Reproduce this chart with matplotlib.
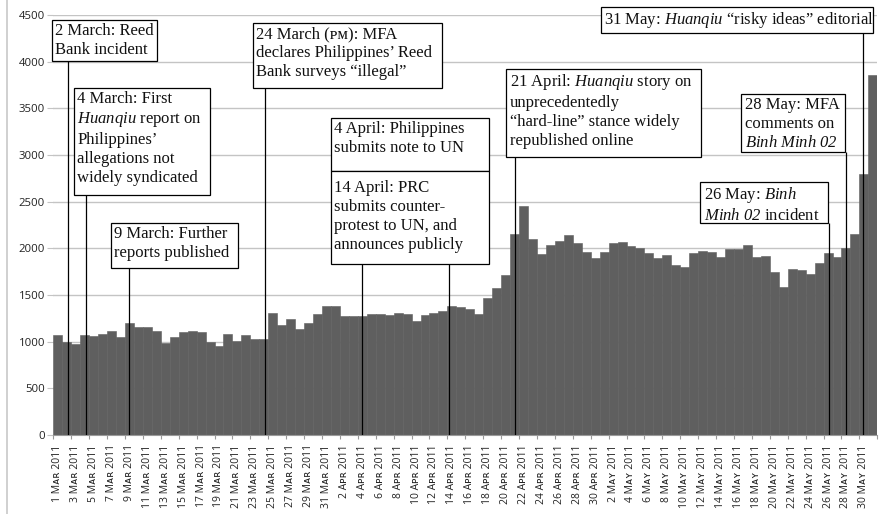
import numpy as np
import pandas as pd
import matplotlib
matplotlib.use("Agg")
import matplotlib.pyplot as plt
from matplotlib.patches import Rectangle
from matplotlib.lines import Line2D

plt.rcParams['mathtext.fontset'] = 'custom'
plt.rcParams['mathtext.rm'] = 'Liberation Serif'
plt.rcParams['mathtext.it'] = 'Liberation Serif:italic'
plt.rcParams['mathtext.sf'] = 'Liberation Serif:italic'

# ---------------- data ----------------
dates = pd.date_range("2011-03-01", "2011-05-31", freq="D")
month_sc = {3: "M\u1d00\u0280", 4: "A\u1d18\u0280", 5: "M\u1d00\u028f"}
tick_labels = [f"{d.day} {month_sc[d.month]} 2011" for d in dates[::2]]

daily_counts = [
    1075, 993, 975, 1075, 1061, 1083, 1115, 1050, 1201, 1151,
    1151, 1115, 986, 1043, 1097, 1108, 1101, 993, 957, 1083,
    1004, 1068, 1022, 1032, 1302, 1176, 1241, 1129, 1201, 1291,
    1385, 1378, 1270, 1277, 1277, 1291, 1291, 1284, 1309, 1291,
    1223, 1284, 1306, 1324, 1378, 1365, 1350, 1291, 1463, 1575,
    1714, 2150, 2457, 2100, 1935, 2035, 2078, 2143, 2060, 1960,
    1892, 1964, 2054, 2071, 2020, 2000, 1953, 1893, 1928, 1821,
    1803, 1950, 1971, 1955, 1910, 1995, 1995, 2036, 1903, 1913,
    1745, 1588, 1780, 1770, 1724, 1842, 1950, 1903, 2000, 2155,
    2795, 3860,
]

event_texts = [
    "2 March: Reed\nBank incident",
    "4 March: First\n$\\mathsf{Huanqiu}$ report on\nPhilippines\u2019\nallegations not\nwidely syndicated",
    "9 March: Further\nreports published",
    "24 March (\u1d18\u1d0d): MFA\ndeclares Philippines\u2019 Reed\nBank surveys \u201cillegal\u201d",
    "4 April: Philippines\nsubmits note to UN",
    "14 April: PRC\nsubmits counter-\nprotest to UN, and\nannounces publicly",
    "21 April: $\\mathsf{Huanqiu}$ story on\nunprecedentedly\n\u201chard-line\u201d stance widely\nrepublished online",
    "26 May: $\\mathsf{Binh}$\n$\\mathsf{Minh\\ 02}$ incident",
    "28 May: MFA\ncomments on\n$\\mathsf{Binh\\ Minh\\ 02}$",
    "31 May: $\\mathsf{Huanqiu}$ \u201crisky ideas\u201d editorial",
]
# event marker positions (day index from 1 March) and top of each marker line
event_x = [1.61, 3.65, 8.49, 23.64, 34.43, 44.22, 51.55, 86.58, 88.5, 90.44]
event_line_top = [4013, 2572, 1785, 3717, 1828, 1828, 2977, 2275, 3030, 4313]

# annotation box extents: (x0, x1, y_bottom, y_top) in data units
box_extents = [
    (-0.18, 11.55, 4013, 4450),
    (2.31, 17.50, 2572, 3720),
    (6.44, 20.59, 1785, 2275),
    (22.26, 43.37, 3717, 4414),
    (31.00, 48.60, 2833, 3395),
    (31.00, 48.60, 1828, 2833),
    (50.55, 72.29, 2977, 3921),
    (72.21, 86.54, 2275, 2708),
    (76.79, 88.43, 3030, 3653),
    (61.12, 91.49, 4313, 4586),
]
# text inset from the top of each box (pixels)
text_top_pad = [3, 3, 3, 3, 3, 9, 3, 3, 3, 3]

# ---------------- figure ----------------
W, H = 881, 514
fig = plt.figure(figsize=(W / 100, H / 100), dpi=100)
ax = fig.add_axes([53.3 / W, 1 - 434.7 / H, (877.3 - 53.3) / W, (434.7 - 15.3) / H])

n = len(daily_counts)
ax.bar(np.arange(n), daily_counts, width=1.0, align='edge', color='#5f5f5f',
       edgecolor='#5f5f5f', linewidth=0.4, zorder=2)

ax.set_xlim(0, n)
ax.set_ylim(0, 4500)

ax.set_yticks(np.arange(0, 4501, 500))
ax.yaxis.grid(True, color='#c4c4c4', linewidth=1.0, zorder=0)
ax.set_axisbelow(True)
ax.tick_params(axis='y', length=4, color='#c4c4c4', pad=2, labelsize=8.2, labelcolor='#222222')
for lab in ax.get_yticklabels():
    lab.set_family(['Open Sans', 'DejaVu Sans'])

ax.set_xticks(np.arange(0, n, 2) + 0.5)
ax.set_xticklabels(tick_labels, rotation=90, fontsize=7.5, color='#222222',
                   family=['Open Sans', 'DejaVu Sans'])
ax.set_xticks(np.arange(0, n + 1, 2), minor=True)
ax.tick_params(axis='x', which='major', length=0, pad=7)
ax.tick_params(axis='x', which='minor', length=3, color='#9a9a9a', width=0.8)

for s in ['top', 'right', 'left']:
    ax.spines[s].set_visible(False)
ax.spines['bottom'].set_color('#9a9a9a')
ax.spines['bottom'].set_linewidth(0.8)

# event marker lines
ax.vlines(event_x, 0, event_line_top, color='black', linewidth=0.9, zorder=4)

# annotation boxes
serif = ['Liberation Serif', 'DejaVu Serif', 'DejaVu Sans']
for (x0, x1, yb, yt), txt, tp in zip(box_extents, event_texts, text_top_pad):
    ax.add_patch(Rectangle((x0, yb), x1 - x0, yt - yb, facecolor='white',
                           edgecolor='black', linewidth=0.9, zorder=5, clip_on=False))
    ax.annotate(txt, xy=(x0, yt), xytext=(3.5, -tp), textcoords='offset pixels',
                ha='left', va='top', fontsize=12, family=serif, color='#111111',
                linespacing=1.25, zorder=6, annotation_clip=False)

# outer left border line
fig.add_artist(Line2D([6.5 / W, 6.5 / W], [0, 1], color='#c8c8c8', linewidth=1.2))

fig.savefig("out.png", dpi=100)
